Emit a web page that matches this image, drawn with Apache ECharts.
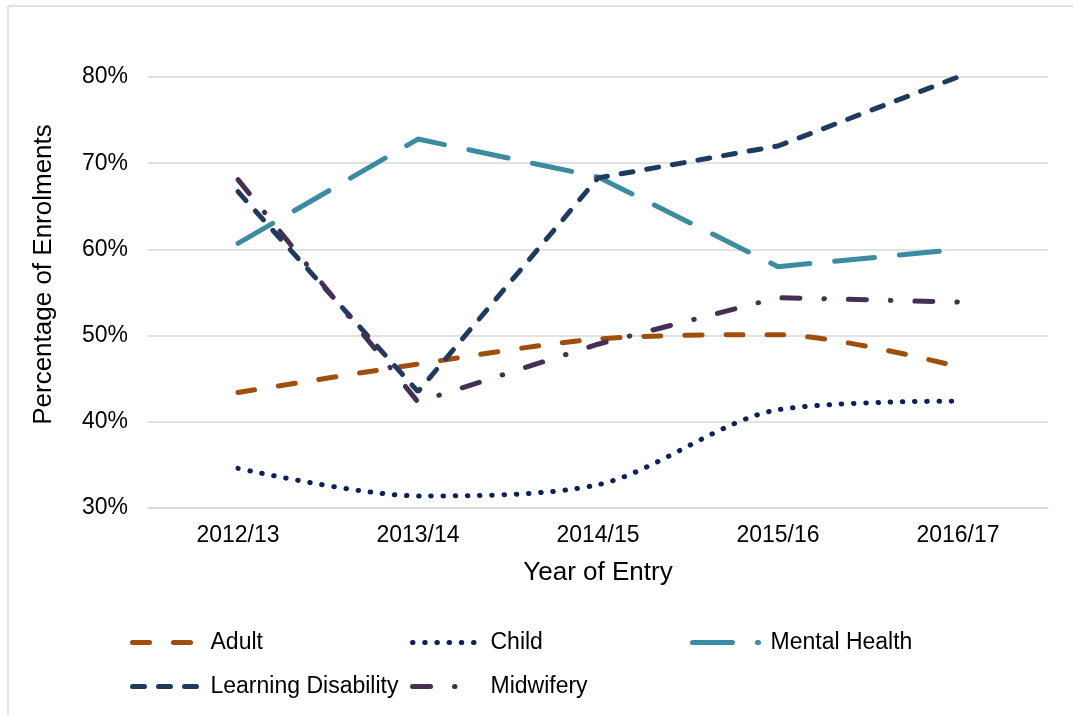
<!DOCTYPE html>
<html>
<head>
<meta charset="utf-8">
<script src="https://cdn.jsdelivr.net/npm/echarts@6/dist/echarts.min.js"></script>
<style>
  html, body { margin: 0; padding: 0; background: #fff; }
  #main { width: 1073px; height: 715px; }
</style>
</head>
<body>
<div id="main"></div>
<script>
var years = ["2012/13", "2013/14", "2014/15", "2015/16", "2016/17"];
var adult = [43.4, 46.7, 49.6, 50.1, 46.4];
var child = [34.6, 31.4, 32.7, 41.4, 42.4];
var mentalHealth = [60.7, 72.8, 68.4, 58.0, 60.0];
var learningDisability = [66.7, 43.5, 68.3, 72.0, 80.0];
var midwifery = [68.1, 42.3, 49.0, 54.4, 53.9];
var yTicks = [30, 40, 50, 60, 70, 80];

var font = "Liberation Sans, Arial, sans-serif";

// one legend per item so each sits where excel put it
function legendAt(name, left, top) {
    return {
        data: [name],
        left: left,
        top: top,
        padding: 0,
        itemWidth: 66,
        itemHeight: 14,
        itemStyle: { color: "rgba(0,0,0,0)", opacity: 0, borderWidth: 0 },  // hide the circle
        lineStyle: { width: 5, cap: "round" },
        textStyle: { fontFamily: font, fontSize: 23, color: "#000", padding: [0, 0, 0, 7] }
    };
}

function lineSeries(name, data, color, dash, smooth) {
    return {
        name: name,
        type: "line",
        data: data,
        symbol: "none",
        smooth: smooth,
        lineStyle: { color: color, width: 5, type: dash, cap: "round" },
        itemStyle: { color: color }
    };
}

var myChart = echarts.init(document.getElementById("main"));
var option = {
    animation: false,
    backgroundColor: "#fff",
    graphic: [
        { type: "line", shape: { x1: 8, y1: 6, x2: 1073, y2: 6 }, style: { stroke: "#D9D9D9", lineWidth: 1.5 } },
        { type: "line", shape: { x1: 8, y1: 6, x2: 8, y2: 715 }, style: { stroke: "#D9D9D9", lineWidth: 1.5 } }
    ],
    grid: { left: 148, right: 25, top: 77, bottom: 207 },
    legend: [
        legendAt("Adult", 130, 631),
        legendAt("Child", 410, 631),
        legendAt("Mental Health", 690, 631),
        legendAt("Learning Disability", 130, 675),
        legendAt("Midwifery", 410, 675)
    ],
    xAxis: {
        type: "category",
        data: years,
        boundaryGap: true,
        name: "Year of Entry",
        nameLocation: "middle",
        nameGap: 52,
        nameTextStyle: { fontFamily: font, fontSize: 26, color: "#000" },
        axisLine: { lineStyle: { color: "#D9D9D9", width: 1.5 } },
        axisTick: { show: false },
        axisLabel: { fontFamily: font, fontSize: 23, color: "#000", margin: 16 }
    },
    yAxis: {
        type: "value",
        min: yTicks[0],
        max: yTicks[yTicks.length - 1],
        interval: 10,
        name: "Percentage of Enrolments",
        nameLocation: "middle",
        nameGap: 91,
        nameTextStyle: { fontFamily: font, fontSize: 26, color: "#000", padding: [0, 0, 0, 36] },
        axisLine: { show: false },
        axisTick: { show: false },
        axisLabel: { fontFamily: font, fontSize: 23, color: "#000", margin: 20, formatter: "{value}%" },
        splitLine: { lineStyle: { color: "#D9D9D9", width: 1.5 } }
    },
    series: [
        lineSeries("Adult", adult, "#A04E0C", [17, 24], 0.3),
        lineSeries("Child", child, "#0C1F5E", [0.5, 11.7], 0.3),
        lineSeries("Mental Health", mentalHealth, "#3A8CA3", [40, 25], false),
        lineSeries("Learning Disability", learningDisability, "#1E3A5F", [12, 14], false),
        lineSeries("Midwifery", midwifery, "#452F52", [18, 24, 0.5, 24], false)
    ]
};
myChart.setOption(option);
</script>
</body>
</html>
